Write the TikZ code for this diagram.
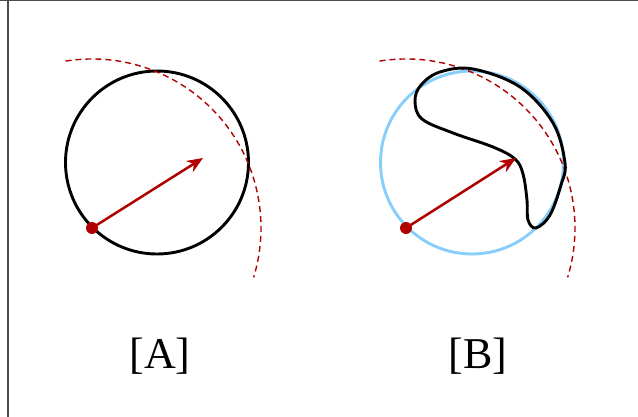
\documentclass[tikz,border=0pt]{standalone}
\usepackage{fontspec}
\setmainfont{Liberation Serif}
\usetikzlibrary{arrows.meta}
\definecolor{dred}{HTML}{B00000}
\definecolor{lblue}{HTML}{87CEFA}
\tikzset{
  ring/.style={line width=2.9pt, black},
  bluering/.style={line width=2.9pt, lblue},
  vec/.style={line width=2.5pt, dred, -{Stealth[length=16pt,width=13pt]}},
  dotmark/.style={circle, fill=dred, inner sep=0pt, minimum size=12pt},
  guide/.style={line width=1.4pt, dred, dash pattern=on 6pt off 4pt},
  lbl/.style={font=\fontsize{44}{50}\selectfont, inner sep=0pt},
  frame/.style={line width=1.5pt, black!70}
}
\begin{document}
\begin{tikzpicture}[x=1pt,y=1pt]
\useasboundingbox (0,0) rectangle (638,-417);
\draw[frame] (0,-0.5) -- (638,-0.5);
\draw[frame] (8,0) -- (8,-417);

% Panel A
\coordinate (ca) at (157,-162.5);
\draw[ring] (ca) circle[radius=91.5pt];
\coordinate (pa) at (92,-228);
\coordinate (ta) at (203,-158);
\draw[guide] (pa) ++(99:169pt) arc[start angle=99, end angle=-17, radius=169pt];
\draw[vec] (pa) -- (ta);
\node[dotmark] (da) at (pa) {};
\node[lbl] (la) at (160,-356) {[A]};

% Panel B
\coordinate (cb) at (472,-162.5);
\draw[bluering] (cb) circle[radius=91.5pt];
\coordinate (pb) at (406,-228);
\coordinate (tb) at (516,-158);
\draw[guide] (pb) ++(99:169pt) arc[start angle=99, end angle=-17, radius=169pt];
\draw[ring] plot[smooth cycle, tension=0.6] coordinates {
  (473,-69) (520,-87) (553,-123) (565,-163) (561,-185) (550,-215) (536,-228)
  (528,-220) (527,-200) (523,-174) (515,-159) (493,-147) (453,-133)
  (422,-119) (415,-101) (421,-85) (440,-72)};
\draw[vec] (pb) -- (tb);
\node[dotmark] (db) at (pb) {};
\node[lbl] (lb) at (478,-356) {[B]};
\end{tikzpicture}
\end{document}
